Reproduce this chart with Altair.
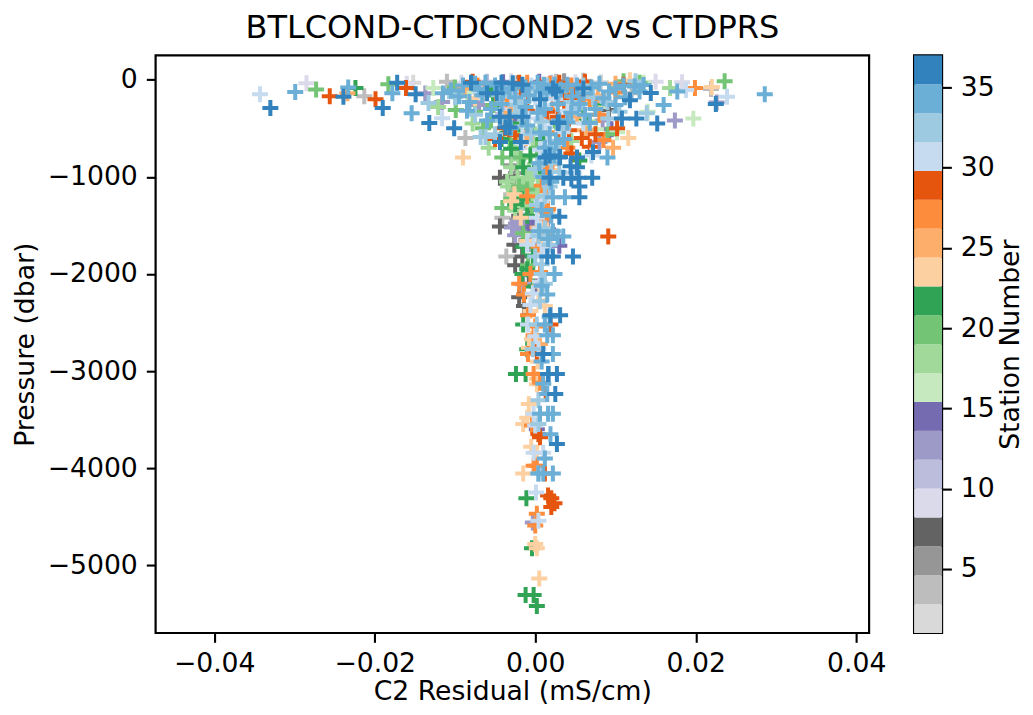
import altair as alt
import pandas as pd

s02 = [(-0.0152,-30),(-0.0062,-120),(0.0082,-25),(-0.0035,-260),(0.0018,-60),(-0.0012,-640),(-0.0017,-1250)]
s04 = [(-0.0213,-170),(-0.0087,-600),(-0.0110,-20),(0.0060,-10),(0.0120,-140),(0.0219,-95),(-0.0041,-1420),(-0.0036,-1820),(-0.0022,-1330),(-0.0030,-1180),(-0.0060,-80),(0.0026,-20),(-0.0018,-1520)]
s06 = [(-0.0073,-210),(-0.0022,-35),(0.0036,-15),(-0.0024,-960),(-0.0030,-880),(-0.0026,-1100),(-0.0011,-1650),(-0.0022,-1440)]
s08 = [(-0.0044,-1010),(-0.0044,-1510),(0.0092,-310),(-0.0030,-990),(-0.0016,-1720),(-0.0026,-1700),(-0.0025,-1910),(-0.0014,-2330),(-0.0020,-2240),(-0.0020,-1400),(-0.0008,-1300),(-0.0016,-1820),(-0.0008,-2000)]
s09 = [(-0.0285,-35),(-0.0160,-40),(-0.0092,-30),(0.0150,-20),(0.0183,-25),(0.0050,-25),(-0.0030,-15),(-0.0012,-1040)]
s11 = [(-0.0060,-20),(-0.0025,-140),(0.0020,-30),(-0.0020,-780),(-0.0010,-1250),(0.0005,-1210),(-0.0040,-350)]
s13 = [(-0.0137,-140),(-0.0116,-230),(0.0174,-420),(0.0226,-235),(-0.0029,-1520),(-0.0015,-2105),(-0.0070,-260),(-0.0003,-4560),(-0.0032,-500),(-0.0024,-1480),(0.0040,-70),(-0.0018,-1540),(-0.0008,-1690),(0.0084,-420),(0.0080,-640),(0.0050,-110),(-0.0015,-1580),(-0.0025,-1600),(-0.0005,-1450),(-0.0012,-1450)]
s15 = [(0.0016,-1540),(-0.0008,-1520),(-0.0003,-1510),(0.0002,-2130),(0.0095,-510),(0.0092,-560),(-0.0023,-140),(0.0002,-3600),(-0.0015,-620),(-0.0020,-420),(0.0040,-210),(0.0005,-20),(-0.0040,-25),(0.0030,-1710)]
s17 = [(-0.0127,-85),(0.0197,-400),(0.0135,-30),(0.0080,-280),(-0.0030,-80),(0.0140,-330),(0.0076,-510),(0.0102,-540),(-0.0085,-130),(0.0045,-320),(-0.0055,-300)]
s18 = [(-0.0121,-280),(-0.0078,-450),(-0.0058,-700),(0.0168,-85),(0.0103,-85),(-0.0034,-1100),(-0.0010,-1030),(-0.0012,-1090),(-0.0007,-1150),(-0.0014,-1200),(-0.0002,-1170),(-0.0006,-1240),(-0.0018,-1140),(-0.0014,-1080),(-0.0004,-1110),(0.0008,-1260),(0.0005,-960),(-0.0003,-620),(-0.0025,-700),(-0.0021,-820),(-0.0008,-930),(0.0015,-1050),(-0.0022,-1010),(-0.0018,-1300),(0.0040,-240),(0.0066,-430),(0.0016,-710),(-0.0030,-900),(-0.0040,-560),(0.0005,-500),(-0.0008,-560),(-0.0015,-450),(0.0004,-790),(-0.0022,-560),(0.0026,-560),(0.0045,-630),(-0.0035,-1050),(-0.0005,-1000),(0.0003,-1090),(-0.0025,-1350)]
s20 = [(-0.0273,-100),(-0.0183,-45),(-0.0099,-310),(0.0236,-15),(0.0110,-15),(0.0130,-30),(-0.0041,-800),(-0.0041,-1320),(-0.0009,-1910),(-0.0018,-800),(-0.0032,-620),(0.0090,-560),(-0.0100,-80),(-0.0055,-420),(-0.0052,-260),(0.0002,-700),(-0.0015,-1580),(0.0030,-480),(-0.0004,-1330),(-0.0075,-330),(-0.0065,-500),(-0.0020,-1100),(-0.0010,-1130),(-0.0030,-1220),(0.0060,-360)]
s22 = [(-0.0224,-85),(0.0075,-245),(-0.0012,-3030),(-0.0024,-3030),(-0.0010,-2775),(-0.0011,-4310),(-0.0004,-4825),(-0.0012,-5305),(-0.0002,-5305),(0.0002,-5420),(0.0020,-100),(-0.0030,-710),(-0.0042,-610),(-0.0025,-1280),(-0.0010,-1950),(-0.0015,-2520),(-0.0003,-2130),(-0.0016,-2000),(-0.0016,-1230),(0.0060,-400),(0.0055,-830),(-0.0055,-100),(-0.0003,-1810),(0.0006,-890),(-0.0045,-200),(-0.0008,-170),(0.0012,-70),(0.0040,-100),(-0.0030,-450),(-0.0012,-520),(0.0010,-610),(-0.0006,-780),(-0.0015,-900),(-0.0010,-1400),(-0.0015,-1720)]
s24 = [(-0.0090,-800),(0.0220,-75),(0.0118,-5),(0.0116,-600),(0.0004,-2280),(0.0005,-2130),(0.0002,-3135),(-0.0008,-3340),(-0.0015,-3545),(-0.0005,-3780),(0.0002,-3840),(-0.0015,-4055),(0.0002,-4825),(0.0005,-5135),(-0.0004,-2670),(0.0003,-2900),(0.0002,-3080),(-0.0030,-1250),(-0.0075,-190),(0.0008,-1520),(0.0015,-1550),(-0.0026,-1180),(0.0048,-120),(0.0020,-930),(-0.0010,-1660),(0.0000,-4780),(-0.0010,-3480),(0.0012,-1680),(-0.0018,-1420),(-0.0006,-2380),(0.0012,-2330),(-0.0008,-2760)]
s26 = [(-0.0234,-140),(-0.0088,-90),(0.0100,-40),(0.0097,-700),(0.0015,-1350),(0.0003,-1520),(0.0040,-220),(0.0052,-380),(-0.0030,-340),(-0.0012,-600),(0.0062,-520),(0.0018,-870),(0.0006,-2720),(0.0078,-160)]
s27 = [(0.0199,-85),(0.0060,-170),(-0.0049,-140),(-0.0072,-60),(0.0010,-180),(0.0008,-1090),(0.0014,-1210),(0.0012,-1440),(-0.0014,-2210),(-0.0009,-2425),(-0.0002,-2630),(-0.0009,-2825),(-0.0002,-3030),(-0.0002,-3975),(0.0002,-3975),(0.0002,-4470),(0.0000,-4590),(0.0014,-1600),(0.0006,-1980),(0.0018,-40),(0.0100,-130),(0.0053,-220),(-0.0004,-3560),(-0.0020,-2100),(0.0016,-1330),(0.0085,-620),(-0.0010,-30),(0.0032,-130),(0.0045,-60),(-0.0035,-200),(0.0022,-260),(0.0010,-420),(-0.0020,-90),(0.0030,-540),(0.0040,-700),(0.0014,-900),(0.0006,-1300),(0.0080,-360),(0.0068,-200),(-0.0010,-1200),(0.0004,-1720),(-0.0006,-2000),(0.0000,-2540),(0.0006,-3120)]
s29 = [(-0.0256,-170),(-0.0199,-200),(-0.0161,-85),(-0.0078,-20),(-0.0020,-30),(0.0036,-215),(0.0050,-160),(0.0058,-600),(0.0102,-500),(0.0110,-50),(-0.0038,-500),(-0.0025,-570),(-0.0050,-610),(0.0091,-1615),(0.0019,-2520),(0.0013,-3235),(0.0002,-2800),(0.0004,-3650),(0.0012,-4055),(0.0016,-4280),(0.0020,-4310),(0.0024,-4360),(0.0020,-4400),(0.0075,-560),(0.0006,-3680),(0.0005,-70),(0.0068,-690),(0.0020,-100),(0.0030,-30),(0.0062,-20),(-0.0020,-190),(0.0015,-330),(0.0028,-380),(-0.0010,-320),(0.0042,-520),(0.0028,-630),(0.0045,-760)]
s31 = [(-0.0343,-150),(-0.0116,-395),(0.0239,-175),(0.0188,-105),(-0.0068,-130),(0.0000,-180),(0.0010,-260),(0.0040,-320),(-0.0016,-480),(0.0018,-700),(0.0034,-540),(-0.0009,-2520),(-0.0002,-3440),(-0.0002,-3840),(0.0010,-3840),(0.0001,-4250),(0.0004,-4540),(0.0070,-780),(0.0008,-1800),(-0.0006,-2320),(0.0006,-1530),(0.0048,-960),(0.0004,-2770),(-0.0014,-220),(0.0060,-450),(-0.0005,-60),(0.0012,-160),(0.0025,-200),(0.0040,-420),(-0.0008,-400),(0.0012,-480),(0.0006,-720),(-0.0016,-650),(-0.0030,-170),(0.0015,-650),(0.0008,-1250),(0.0002,-1420),(0.0012,-1700),(-0.0002,-1600),(-0.0010,-1700),(0.0006,-2080),(-0.0003,-2200),(0.0000,-2640),(0.0000,-3560)]
s33 = [(-0.0133,-240),(-0.0068,-590),(0.0139,-345),(0.0091,-400),(0.0125,-15),(0.0008,-2000),(0.0006,-2280),(0.0002,-2520),(-0.0003,-2775),(0.0004,-3545),(0.0004,-4055),(-0.0050,-560),(-0.0042,-420),(-0.0062,-590),(0.0012,-1530),(0.0004,-1610),(0.0002,-1290),(0.0000,-1820),(0.0020,-860),(0.0018,-1100),(-0.0028,-60),(0.0030,-120),(0.0052,-290),(-0.0020,-350),(0.0060,-60),(0.0022,-690),(-0.0025,-260),(0.0072,-180),(-0.0045,-160),(-0.0030,-120),(-0.0015,-230),(0.0000,-100),(0.0015,-60),(0.0045,-230),(0.0035,-500),(0.0008,-430),(-0.0005,-560),(0.0010,-820),(0.0000,-920),(0.0030,-950),(0.0012,-1200),(0.0018,-1700),(0.0008,-1900),(0.0090,-230),(0.0105,-330),(-0.0100,-180),(-0.0075,-360),(0.0012,-2100),(0.0004,-3300)]
s35 = [(-0.0299,-125),(-0.0233,-80),(-0.0178,-140),(-0.0154,-345),(-0.0115,-140),(-0.0105,-110),(-0.0090,-60),(-0.0082,-230),(-0.0066,-160),(-0.0055,-300),(-0.0042,-250),(-0.0032,-90),(0.0011,-50),(0.0024,-50),(0.0040,-50),(0.0052,-60),(0.0070,-80),(0.0092,-120),(0.0124,-70),(0.0135,-55),(0.0160,-260),(0.0177,-120),(0.0286,-150),(0.0068,-445),(0.0045,-340),(0.0030,-420),(0.0018,-560),(0.0090,-800),(0.0022,-1210),(0.0037,-1210),(0.0028,-1615),(0.0035,-1615),(0.0016,-1640),(0.0024,-2000),(0.0015,-2210),(0.0015,-2630),(0.0022,-2630),(0.0022,-2825),(0.0017,-3030),(0.0015,-3235),(0.0016,-3440),(0.0022,-3440),(0.0019,-3650),(0.0004,-4055),(0.0010,-4055),(0.0022,-4055),(0.0008,-1340),(0.0018,-2440),(0.0014,-140),(-0.0008,-160),(0.0055,-250),(0.0010,-1000),(0.0026,-650),(0.0020,-1400),(-0.0075,-40),(-0.0062,-30),(-0.0050,-60),(-0.0040,-130),(-0.0025,-180),(-0.0012,-80),(0.0003,-30),(0.0008,-120),(0.0032,-100),(0.0046,-170),(0.0060,-140),(0.0080,-40),(0.0100,-90),(0.0110,-60),(-0.0070,-100),(-0.0012,-280),(0.0003,-340),(0.0012,-300),(0.0028,-250),(0.0040,-440),(-0.0030,-500),(-0.0010,-470),(0.0006,-540),(0.0036,-610),(0.0012,-700),(0.0024,-780),(0.0005,-860),(0.0020,-1050),(0.0085,-190),(0.0075,-300),(0.0062,-360),(0.0100,-260),(0.0112,-180),(0.0130,-120),(-0.0095,-170),(-0.0085,-320),(-0.0060,-420),(0.0005,-1560),(0.0022,-1560),(0.0008,-2120),(0.0012,-2520),(0.0008,-2900),(0.0010,-3130),(0.0006,-3440),(0.0012,-3900)]
s37 = [(-0.0330,-290),(-0.0239,-175),(-0.0190,-290),(-0.0172,-30),(-0.0149,-150),(-0.0132,-445),(-0.0101,-500),(-0.0080,-30),(-0.0048,-140),(-0.0042,-30),(-0.0032,-380),(-0.0028,-35),(-0.0016,-50),(-0.0032,-490),(-0.0018,-640),(-0.0016,-380),(0.0006,-200),(0.0028,-440),(0.0030,-800),(0.0018,-780),(0.0052,-800),(0.0072,-745),(0.0054,-1010),(0.0071,-1010),(0.0035,-1010),(0.0055,-1210),(0.0030,-1410),(0.0118,-210),(0.0144,-135),(0.0108,-400),(0.0126,-400),(0.0152,-450),(0.0225,-250),(0.0045,-1020),(0.0055,-1100),(0.0047,-1820),(0.0022,-1820),(0.0015,-1820),(0.0019,-2425),(0.0031,-2425),(0.0010,-2825),(0.0016,-3030),(0.0027,-3030),(0.0025,-3235),(0.0027,-3750),(0.0013,-800),(0.0044,-890),(0.0060,-90),(0.0022,-90),(0.0026,-120),(-0.0060,-140),(-0.0044,-380),(-0.0037,-490),(-0.0044,-640),(0.0029,-445),(0.0031,-795),(0.0052,-900),(0.0018,-1010)]

point_lists = [(2,s02),(4,s04),(6,s06),(8,s08),(9,s09),(11,s11),(13,s13),(15,s15),(17,s17),(18,s18),
               (20,s20),(22,s22),(24,s24),(26,s26),(27,s27),(29,s29),(31,s31),(33,s33),(35,s35),(37,s37)]

bin_edges = [1,2.8,4.6,6.4,8.2,10,11.8,13.6,15.4,17.2,19,20.8,22.6,24.4,26.2,28,29.8,31.6,33.4,35.2,37]
bin_colors = ["#d9d9d9","#bdbdbd","#969696","#636363","#dadaeb","#bcbddc","#9e9ac8","#756bb1",
              "#c7e9c0","#a1d99b","#74c476","#31a354","#fdd0a2","#fdae6b","#fd8d3c","#e6550d",
              "#c6dbef","#9ecae1","#6baed6","#3182bd"]

rows = [{"station": st, "res": x, "prs": y} for st, pts in point_lists for x, y in pts]
df = pd.DataFrame(rows)
bars = pd.DataFrame({"lo": bin_edges[:-1], "hi": bin_edges[1:], "c": bin_colors})

FONT = "DejaVu Sans"
color_scale = alt.Scale(type="threshold", domain=bin_edges[1:-1], range=bin_colors)

main = alt.Chart(df, title=alt.TitleParams("BTLCOND-CTDCOND2 vs CTDPRS", fontSize=32, font=FONT, fontWeight="normal", offset=10, color="black")).mark_point(
    shape="M-1,0H1M0,-1V1", size=256, filled=False, strokeWidth=4, opacity=1
).encode(
    x=alt.X("res:Q", scale=alt.Scale(domain=[-0.0473, 0.0416], nice=False, zero=False),
            axis=alt.Axis(values=[-0.04,-0.02,0,0.02,0.04], format=".2f", title="C2 Residual (mS/cm)", titlePadding=2, labelPadding=8)),
    y=alt.Y("prs:Q", scale=alt.Scale(domain=[-5697, 251], nice=False, zero=False),
            axis=alt.Axis(values=[-5000,-4000,-3000,-2000,-1000,0], format="d", title="Pressure (dbar)")),
    color=alt.Color("station:Q", scale=color_scale, legend=None),
).properties(width=714, height=578)

cbar = alt.Chart(bars).mark_rect().encode(
    y=alt.Y("lo:Q", scale=alt.Scale(domain=[1, 37], nice=False, zero=False),
            axis=alt.Axis(orient="right", values=[5,10,15,20,25,30,35], title="Station Number", titleAngle=270, titleBaseline="top", titlePadding=3)),
    y2="hi:Q",
    x=alt.value(0),
    x2=alt.value(28),
    color=alt.Color("c:N", scale=None),
).properties(width=28, height=578)

chart = alt.hconcat(main, cbar, spacing=25).properties(
    padding={"left": 2.7, "top": 2.2, "right": 0, "bottom": -0.8}
).configure_view(stroke="black", strokeWidth=2.2).configure_axis(
    grid=False, domain=False, labelFont=FONT, titleFont=FONT, labelFontSize=26.67, titleFontSize=26.67,
    titleFontWeight="normal", labelColor="black", titleColor="black", tickColor="black",
    tickSize=9.3, tickWidth=2.1, labelPadding=9, titlePadding=8
)
chart.save("out.html", embed_options={"renderer": "svg", "actions": False})
